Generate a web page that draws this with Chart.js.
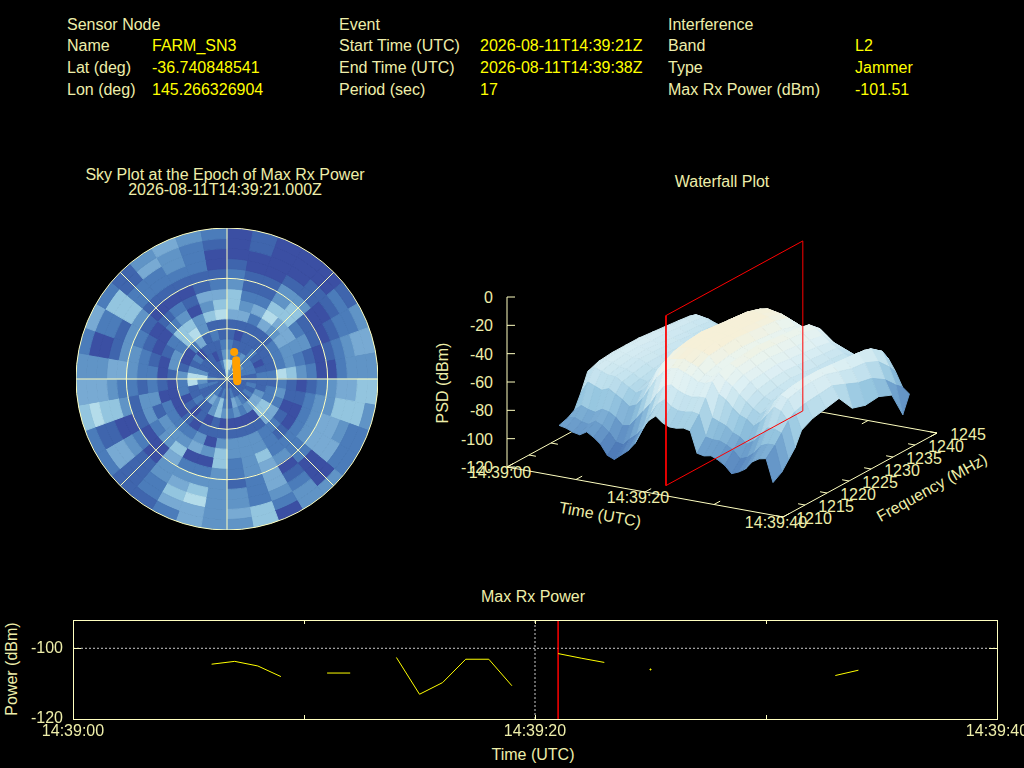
<!DOCTYPE html>
<html><head><meta charset="utf-8">
<script src="https://cdn.jsdelivr.net/npm/chart.js@4"></script>
<style>
html,body{margin:0;padding:0;background:#000;width:1024px;height:768px;overflow:hidden}
canvas{position:absolute}
.t{position:absolute;white-space:nowrap;font:16px "Liberation Sans",Arial,sans-serif;color:#eeeeaa;line-height:18px}
</style></head><body>
<script>
// ---------- header ----------
const headerLabels1=["Sensor Node","Name","Lat (deg)","Lon (deg)"];
const headerValues1=["","FARM_SN3","-36.740848541","145.266326904"];
const headerLabels2=["Event","Start Time (UTC)","End Time (UTC)","Period (sec)"];
const headerValues2=["","2026-08-11T14:39:21Z","2026-08-11T14:39:38Z","17"];
const headerLabels3=["Interference","Band","Type","Max Rx Power (dBm)"];
const headerValues3=["","L2","Jammer","-101.51"];

// ---------- sky plot: level per 10-deg sector (clockwise from north), outer ring first ----------
const s005=[0,0,0,1,2,3,5,5,4,1,1,2,3,6,6];
const s015=[1,1,0,0,1,1,2,3,4,1,0,1,2,6,4];
const s025=[0,0,0,0,1,1,2,4,2,1,1,1,2,3,3];
const s035=[0,0,0,1,3,3,5,6,4,1,1,1,3,6,3];
const s045=[0,0,1,1,3,5,5,4,3,1,1,2,2,4,3];
const s055=[1,2,1,0,0,1,2,4,4,2,1,1,2,3,2];
const s065=[3,2,2,1,0,1,3,3,3,2,1,0,2,2,1];
const s075=[4,4,3,2,1,0,1,2,3,2,1,1,2,2,1];
const s085=[3,3,3,2,0,0,2,3,5,6,2,2,1,1,1];
const s095=[5,5,4,4,3,2,1,0,1,2,1,1,1,1,1];
const s105=[3,5,5,5,3,3,2,1,1,3,2,1,2,1,0];
const s115=[2,2,3,4,4,3,2,0,0,2,2,3,1,1,1];
const s125=[2,2,4,4,4,3,2,0,1,4,5,4,2,1,1];
const s135=[3,0,0,0,2,2,2,1,2,4,5,4,1,1,0];
const s145=[3,3,2,1,0,3,2,2,2,1,0,3,2,1,0];
const s155=[0,2,3,4,4,4,5,3,3,1,0,2,3,1,1];
const s165=[5,5,2,2,2,3,3,3,3,1,0,3,4,2,1];
const s175=[3,4,3,3,1,2,2,3,3,1,0,2,1,1,0];
const s185=[3,3,3,3,3,3,5,5,3,1,0,3,2,1,1];
const s195=[4,4,6,5,3,2,0,3,0,1,1,5,5,2,1];
const s205=[2,4,5,4,3,2,0,4,3,1,0,3,3,1,1];
const s215=[1,2,2,3,3,4,5,3,2,0,1,1,4,2,1];
const s225=[1,1,1,1,0,0,3,3,2,1,0,1,3,2,1];
const s235=[2,4,4,3,2,0,2,3,2,0,1,2,1,1,1];
const s245=[2,1,1,0,0,1,3,1,2,0,0,1,1,1,1];
const s255=[5,6,5,5,3,1,3,3,0,0,2,1,2,2,1];
const s265=[4,4,4,3,2,2,1,2,1,0,2,6,3,1,1];
const s275=[3,3,3,4,4,3,2,2,0,1,3,6,6,2,1];
const s285=[2,0,0,1,3,3,2,1,0,3,1,3,3,1,1];
const s295=[4,2,2,1,3,2,1,0,1,3,0,1,1,1,1];
const s305=[2,5,5,5,3,1,0,0,2,2,0,2,1,1,1];
const s315=[1,1,2,2,1,0,1,2,5,5,2,0,1,1,1];
const s325=[3,4,2,2,1,0,2,3,5,6,4,1,1,1,1];
const s335=[4,3,3,2,1,0,1,0,3,3,1,1,0,1,1];
const s345=[3,2,2,2,1,1,4,3,5,1,2,1,1,2,1];
const s355=[2,1,0,0,1,2,4,5,6,1,1,2,3,5,5];
const sectors=[s005,s015,s025,s035,s045,s055,s065,s075,s085,s095,s105,s115,s125,s135,s145,s155,s165,s175,s185,s195,s205,s215,s225,s235,s245,s255,s265,s275,s285,s295,s305,s315,s325,s335,s345,s355];
const skyPalette=["#3b4fa3","#3f65ad","#4b7cba","#6094c6","#78aad3","#93c5df","#b4dcea","#dbf1f6"];
// satellites: east / north zenith offset (deg)
const satEast=[4.4,5.6,5.7,5.7,5.8,5.9,6.0,6.0,6.1,6.3,6.3];
const satNorth=[16.5,11.5,10,8.5,7,5.5,4,2.5,1,-0.5,-1.4];

// ---------- waterfall ----------
const wfTimes=[5,6,7,8,9,10,11,12,13,14,15,16,17,18,19,20,21,22,23,24,25,26,27,28,29,30,31,32,33,34,35,36];
const wfFreqs=[1214,1216,1217.5,1219,1220.5,1223,1226,1229,1232,1235,1238,1241,1243.5,1245];
const psd1214=[-93,-94,-96,-97,-94,-97,-101,-108,-110,-106,-102,-96,-85,-78,-74,-78,-80,-80,-79,-80,-95,-96,-95,-97,-100,-105,-103,-100,-94,-91,-90,-106];
const psd1216=[-91,-90,-92,-93,-90,-92,-96,-102,-103,-98,-94,-88,-78,-70,-66,-70,-72,-72,-71,-72,-87,-88,-88,-90,-93,-98,-96,-92,-86,-84,-84,-102];
const psd1217=[-88,-84,-86,-87,-84,-85,-88,-93,-92,-86,-80,-74,-66,-60,-58,-61,-63,-64,-63,-63,-76,-78,-80,-84,-86,-90,-87,-82,-76,-76,-78,-96];
const psd1219=[-78,-70,-72,-74,-72,-75,-78,-82,-80,-74,-66,-58,-53,-50,-49,-51,-53,-56,-56,-54,-62,-65,-70,-74,-76,-80,-76,-70,-64,-66,-72,-90];
const psd1220=[-66,-62,-64,-66,-66,-69,-72,-75,-72,-66,-57,-50,-47,-46,-45,-47,-49,-53,-54,-50,-55,-58,-63,-67,-71,-74,-70,-64,-58,-60,-68,-80];
const psd1223=[-63,-61,-62,-64,-65,-67,-70,-71,-67,-61,-53,-46,-43,-42,-42,-43,-45,-51,-53,-48,-50,-54,-58,-63,-67,-69,-66,-61,-56,-58,-66,-76];
const psd1226=[-62,-60,-61,-63,-63,-65,-68,-69,-65,-59,-51,-44,-41,-40,-40,-41,-44,-49,-51,-47,-49,-53,-57,-61,-65,-67,-65,-60,-55,-57,-65,-74];
const psd1229=[-62,-60,-61,-62,-63,-65,-67,-68,-64,-58,-50,-43,-41,-41,-41,-42,-43,-48,-50,-46,-48,-52,-56,-60,-64,-66,-64,-60,-55,-57,-64,-72];
const psd1232=[-62,-60,-62,-63,-64,-66,-68,-69,-65,-58,-50,-44,-42,-41,-42,-42,-44,-49,-51,-47,-49,-53,-57,-61,-65,-67,-64,-60,-56,-60,-68,-84];
const psd1235=[-63,-61,-62,-64,-65,-67,-69,-70,-66,-59,-51,-45,-42,-41,-42,-43,-45,-50,-52,-48,-50,-54,-58,-62,-66,-68,-65,-61,-57,-63,-72,-87];
const psd1238=[-64,-62,-63,-65,-66,-68,-70,-71,-67,-60,-53,-46,-43,-42,-43,-44,-46,-51,-53,-49,-51,-55,-59,-63,-66,-68,-66,-61,-58,-64,-74,-86];
const psd1241=[-65,-63,-64,-66,-67,-69,-71,-73,-69,-62,-55,-48,-46,-45,-46,-47,-49,-54,-55,-51,-53,-57,-61,-64,-67,-69,-67,-62,-60,-68,-80,-90];
const psd1243=[-66,-64,-65,-67,-69,-71,-73,-75,-71,-65,-59,-55,-54,-54,-55,-56,-58,-60,-61,-58,-62,-66,-68,-70,-72,-74,-71,-66,-66,-76,-88,-108];
const psd1245=[-70,-68,-69,-71,-72,-74,-76,-78,-76,-72,-66,-62,-60,-60,-61,-63,-66,-68,-70,-72,-74,-76,-77,-78,-79,-80,-78,-76,-74,-82,-92,-96];
const psdRows=[psd1214,psd1216,psd1217,psd1219,psd1220,psd1223,psd1226,psd1229,psd1232,psd1235,psd1238,psd1241,psd1243,psd1245];
const psdTicks=[0,-20,-40,-60,-80,-100,-120];
const timeTicks=[0,10,20,30,40];
const timeTickLabels={0:"14:39:00",20:"14:39:20",40:"14:39:40"};
const freqTicks=[1210,1215,1220,1225,1230,1235,1240,1245];
const markerTime=21;
const markerFreqRange=[1213.2,1244.3];

// ---------- max rx power ----------
const powerTimes=[6,7,8,9,10,11,12,13,14,15,16,17,18,19,20,21,22,23,24,25,26,27,28,29,30,31,32,33,34];
const powerValues=[-104.5,-103.7,-105,-108,null,-107,-107,null,-102.6,-113,-109.7,-103.1,-103.1,-110.6,null,-101.5,-102.8,-104,null,-106,null,null,null,null,null,null,null,-107.7,-106.2];

const AXIS="#ffffc0",TEXT="#eeeeaa";
function label(text,x,y,o={}){
  const d=document.createElement('div');d.className='t';d.textContent=text;
  d.style.left=x+'px';d.style.top=(y+1)+'px';
  if(o.color)d.style.color=o.color;
  const ax=o.align==='left'?'0':(o.align==='right'?'-100%':'-50%');
  d.style.transform=`translate(${ax},-50%)`+(o.rot?` rotate(${o.rot}deg)`:'');
  document.body.appendChild(d);
}
function mk(x,y,w,h){const c=document.createElement('canvas');c.width=w;c.height=h;c.style.left=x+'px';c.style.top=y+'px';c.style.width=w+'px';c.style.height=h+'px';document.body.appendChild(c);return c;}

// header text
[[67,152,headerLabels1,headerValues1],[339,480,headerLabels2,headerValues2],[668,855,headerLabels3,headerValues3]].forEach(([a,b,L,V])=>{
  const ys=[24,45,67,89];
  L.forEach((s,i)=>{label(s,a,ys[i],{align:'left'});if(V[i])label(V[i],b,ys[i],{align:'left',color:'#ffff00'});});
});
label("Sky Plot at the Epoch of Max Rx Power",225,174);
label("2026-08-11T14:39:21.000Z",225,189);
label("Waterfall Plot",722,181);
label("Max Rx Power",533,596);
label("Time (UTC)",533,754);
label("Power (dBm)",12,668,{rot:-90});
label("PSD (dBm)",443,382,{rot:-90});
label("Time (UTC)",600,514,{rot:10.3});
label("Frequency (MHz)",932,487,{rot:-29});

Chart.defaults.animation=false;
Chart.defaults.font.family='"Liberation Sans",Arial,sans-serif';
const base={responsive:false,devicePixelRatio:1,animation:false,plugins:{legend:{display:false},tooltip:{enabled:false}}};

// sky: rings (dataset 0 is the outermost ring)
const ringCount=s005.length;
const skyDatasets=[];
for(let k=0;k<ringCount;k++){
  const cols=sectors.map(s=>skyPalette[s[k]]);
  skyDatasets.push({data:sectors.map(()=>1),backgroundColor:cols,borderColor:cols,borderWidth:1});
}
new Chart(mk(76,228,302,302),{type:'doughnut',data:{labels:sectors.map((_,i)=>i*10),datasets:skyDatasets},
  options:{...base,cutout:0,layout:{padding:0}}});
// sky: grid
new Chart(mk(76,228,302,302),{type:'radar',data:{labels:["","","","","","","",""],datasets:[{data:[]}]},
  options:{...base,layout:{padding:0},scales:{r:{min:0,max:90,ticks:{display:false,stepSize:30},
    grid:{circular:true,color:AXIS,lineWidth:1},angleLines:{color:AXIS,lineWidth:1},pointLabels:{display:false}}}}});
// sky: satellites
new Chart(mk(76,228,302,302),{type:'scatter',data:{datasets:[{data:satEast.map((x,i)=>({x,y:satNorth[i]})),backgroundColor:'#ffa000',borderWidth:0,pointRadius:4}]},
  options:{...base,layout:{padding:0},scales:{x:{display:false,min:-90,max:90},y:{display:false,min:-90,max:90}}}});

// waterfall
const proj=(t,f,z)=>({x:507+276*(t/40)+154*((f-1210)/35),y:467+50*(t/40)-84*((f-1210)/35)-(z+120)*170/120});
const stops=[[-120,[58,80,165]],[-105,[80,125,185]],[-92,[110,160,205]],[-80,[150,198,224]],[-68,[195,226,238]],[-58,[222,240,244]],[-50,[234,244,238]],[-43,[246,240,216]]];
function psdColor(z){
  if(z<=stops[0][0])return `rgb(${stops[0][1]})`;
  for(let i=1;i<stops.length;i++){if(z<=stops[i][0]){const a=stops[i-1],b=stops[i],k=(z-a[0])/(b[0]-a[0]);
    return `rgb(${a[1].map((v,j)=>Math.round(v+(b[1][j]-v)*k))})`;}}
  return `rgb(${stops[stops.length-1][1]})`;
}
const line=(pts,color,w=1)=>({data:pts,showLine:true,borderColor:color,borderWidth:w,pointRadius:0,fill:false});
const ds=[];
const [fa,fb]=markerFreqRange;
ds.push(line([proj(markerTime,fa,-120),proj(markerTime,fb,-120),proj(markerTime,fb,0),proj(markerTime,fa,0),proj(markerTime,fa,-120)],'#ff0000'));
for(let i=0;i<wfFreqs.length-1;i++){
  for(let j=wfTimes.length-2;j>=0;j--){
    const a=psdRows[i][j],b=psdRows[i][j+1],c=psdRows[i+1][j+1],d=psdRows[i+1][j];
    const col=psdColor((a+b+c+d)/4);
    ds.push({data:[proj(wfTimes[j],wfFreqs[i],a),proj(wfTimes[j+1],wfFreqs[i],b),proj(wfTimes[j+1],wfFreqs[i+1],c),proj(wfTimes[j],wfFreqs[i+1],d),proj(wfTimes[j],wfFreqs[i],a)],
      showLine:true,fill:'shape',backgroundColor:col,borderColor:col,borderWidth:1,pointRadius:0});
  }
}
const T0=0,T1=40,F0=1210,F1=1245,Z0=-120;
ds.push(line([proj(T0,F0,Z0),proj(T1,F0,Z0),proj(T1,F1,Z0),proj(T0,F1,Z0),proj(T0,F0,Z0)],AXIS));
ds.push(line([proj(T0,F0,Z0),proj(T0,F0,0)],AXIS));
psdTicks.forEach(z=>{ds.push(line([proj(T0,F0,z),{x:proj(T0,F0,z).x+8,y:proj(T0,F0,z).y}],AXIS));
  label(String(z),493,proj(T0,F0,z).y,{align:'right'});});
timeTicks.forEach(t=>{
  ds.push(line([proj(t,F0,Z0),proj(t,F0+1.4,Z0)],AXIS));
  ds.push(line([proj(t,F1,Z0),proj(t,F1-1.4,Z0)],AXIS));
  if(timeTickLabels[t]){const p=proj(t,F0,Z0);label(timeTickLabels[t],p.x-7,p.y+4.5);}
});
freqTicks.forEach(f=>{
  ds.push(line([proj(T1,f,Z0),proj(T1-1,f,Z0)],AXIS));
  ds.push(line([proj(T0,f,Z0),proj(T0+1,f,Z0)],AXIS));
  const p=proj(T1,f,Z0);label(String(f),p.x+31,p.y+0.5);
});
new Chart(mk(430,230,580,310),{type:'scatter',data:{datasets:ds},
  options:{...base,parsing:false,normalized:true,layout:{padding:0},plugins:{...base.plugins,filler:{propagate:false,drawTime:'beforeDatasetDraw'}},
    scales:{x:{display:false,min:430,max:1010},y:{display:false,min:230,max:540,reverse:true}}}});

// max rx power
const powerPts=powerTimes.map((x,i)=>({x,y:powerValues[i]}));
const boxPlugin={id:'box',afterDraw(ch){
  const {ctx,chartArea:a,scales:{x,y}}=ch;ctx.save();ctx.strokeStyle=AXIS;ctx.lineWidth=1;
  ctx.strokeRect(a.left+.5,a.top+.5,a.right-a.left,a.bottom-a.top);
  [10,20,30].forEach(t=>{const p=Math.round(x.getPixelForValue(t))+.5;ctx.beginPath();ctx.moveTo(p,a.top);ctx.lineTo(p,a.top+4);ctx.moveTo(p,a.bottom);ctx.lineTo(p,a.bottom-4);ctx.stroke();});
  const q=Math.round(y.getPixelForValue(-100))+.5;ctx.beginPath();ctx.moveTo(a.left,q);ctx.lineTo(a.left+8,q);ctx.moveTo(a.right,q);ctx.lineTo(a.right-8,q);ctx.stroke();
  ctx.restore();
}};
new Chart(mk(0,0,1024,768),{type:'scatter',data:{datasets:[
  {data:powerPts,showLine:true,spanGaps:false,borderColor:'#ffff00',backgroundColor:'#ffff00',borderWidth:1,pointRadius:powerTimes.map(t=>t===25?0.6:0),borderJoinStyle:'round'},
  {data:[{x:markerTime,y:-120},{x:markerTime,y:-92}],showLine:true,borderColor:'#ff0000',borderWidth:1.5,pointRadius:0},
  {data:[{x:20,y:-120},{x:20,y:-92}],showLine:true,borderColor:'#cccccc',borderWidth:1,borderDash:[2,2],pointRadius:0},
  {data:[{x:0,y:-100},{x:40,y:-100}],showLine:true,borderColor:'#cccccc',borderWidth:1,borderDash:[2,2],pointRadius:0}
]},plugins:[boxPlugin],options:{...base,layout:{padding:{left:0,right:27,top:620,bottom:0}},
  scales:{
    x:{type:'linear',min:0,max:40,grid:{display:false,drawTicks:false},border:{display:false},
      afterBuildTicks(s){s.ticks=[{value:0},{value:20},{value:40}];},
      afterFit(s){s.height=49;s.paddingLeft=0;s.paddingRight=0;},
      ticks:{color:TEXT,font:{size:16},padding:3,maxRotation:0,autoSkip:false,callback:v=>timeTickLabels[v]||''}},
    y:{min:-120,max:-92,grid:{display:false,drawTicks:false},border:{display:false},
      afterBuildTicks(s){s.ticks=[{value:-120},{value:-100}];},
      afterFit(s){s.width=73;s.paddingTop=0;s.paddingBottom=0;},
      ticks:{color:TEXT,font:{size:16},padding:10,autoSkip:false}}
  }}});
</script>
</body></html>
